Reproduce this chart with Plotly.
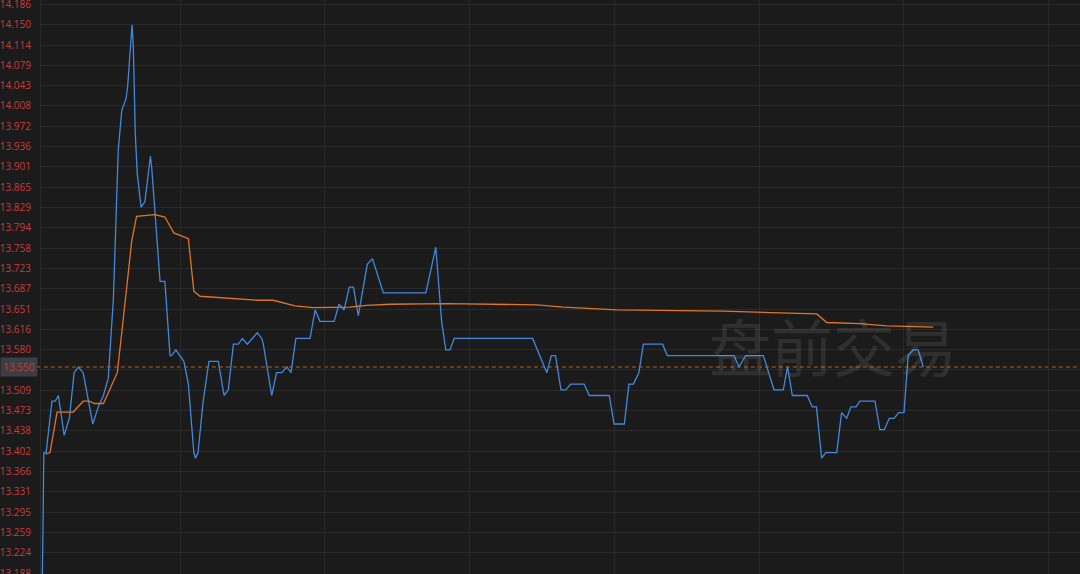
import plotly.graph_objects as go

# ---- data (minutes from session start, price) ----
price_t = [2.2, 2.4, 2.5, 2.6, 2.7, 3.4, 5.2, 6.2, 7.2, 9.0, 10.6, 12.1, 13.4, 14.9, 17.9, 19.6, 21.2, 22.7,
           24.3, 25.0, 25.8, 26.9, 28.2, 28.7, 29.5, 30.1, 30.5, 30.8, 31.1, 31.7, 32.9, 34.1, 35.0, 35.8, 36.2,
           36.7, 37.5, 38.8, 40.3, 41.9, 42.4, 43.7, 46.2, 47.6, 49.3, 49.8, 50.6, 52.2, 54.0, 56.9, 58.7, 60.0,
           61.6, 63.1, 64.4, 65.9, 69.0, 70.4, 70.9, 73.5, 75.0, 76.6, 78.2, 79.5, 81.0, 85.4, 87.0, 88.5, 92.9,
           94.4, 96.0, 97.6, 98.9, 100.4, 103.2, 104.8, 108.2, 121.4, 124.5, 126.3, 127.6, 128.9, 130.2, 154.6,
           159.0, 160.4, 161.7, 163.4, 164.9, 166.4, 170.6, 172.2, 178.4, 179.9, 183.1, 184.5, 185.9, 187.6,
           189.0, 195.0, 196.4, 217.2, 218.7, 220.8, 226.3, 229.6, 232.5, 233.8, 235.3, 239.9, 241.5, 242.8,
           244.4, 245.7, 249.1, 250.6, 252.2, 253.5, 255.1, 256.3, 261.0, 262.5, 263.9, 265.4, 266.9, 268.4,
           270.0, 271.3, 272.9, 274.4, 276.0]
price_v = [13.18, 13.235, 13.30, 13.365, 13.40, 13.40, 13.49, 13.49, 13.50, 13.43, 13.46, 13.54, 13.55, 13.54,
           13.45, 13.48, 13.50, 13.53, 13.67, 13.79, 13.93, 14.00, 14.02, 14.04, 14.10, 14.15, 14.11, 14.04,
           13.96, 13.89, 13.83, 13.84, 13.88, 13.92, 13.90, 13.86, 13.79, 13.70, 13.70, 13.57, 13.57, 13.58,
           13.56, 13.52, 13.40, 13.39, 13.40, 13.49, 13.56, 13.56, 13.50, 13.51, 13.59, 13.59, 13.60, 13.59,
           13.61, 13.60, 13.59, 13.50, 13.54, 13.54, 13.55, 13.54, 13.60, 13.60, 13.65, 13.63, 13.63, 13.66,
           13.65, 13.69, 13.69, 13.64, 13.73, 13.74, 13.68, 13.68, 13.76, 13.63, 13.58, 13.58, 13.60, 13.60,
           13.54, 13.57, 13.57, 13.51, 13.51, 13.52, 13.52, 13.50, 13.50, 13.45, 13.45, 13.52, 13.52, 13.54,
           13.59, 13.59, 13.57, 13.57, 13.55, 13.57, 13.57, 13.51, 13.51, 13.55, 13.50, 13.50, 13.48, 13.48,
           13.39, 13.40, 13.40, 13.47, 13.46, 13.48, 13.48, 13.49, 13.49, 13.44, 13.44, 13.46, 13.46, 13.47,
           13.47, 13.57, 13.58, 13.58, 13.55]

avg_t = [3.2, 4.6, 6.8, 11.8, 14.9, 16.8, 18.4, 21.2, 23.2, 25.5, 26.9, 28.4, 30.0, 31.5, 34.7, 37.2, 40.3,
         43.1, 47.6, 49.3, 51.2, 60.5, 68.8, 74.0, 80.7, 86.4, 97.8, 103.0, 110.3, 127.9, 155.8, 164.1, 180.7,
         213.8, 234.6, 242.9, 246.0, 256.3, 264.6, 279.1]
avg_v = [13.397, 13.400, 13.471, 13.471, 13.490, 13.490, 13.486, 13.486, 13.511, 13.540, 13.610, 13.686,
         13.771, 13.814, 13.816, 13.817, 13.813, 13.785, 13.775, 13.683, 13.674, 13.670, 13.667, 13.667,
         13.657, 13.654, 13.655, 13.658, 13.660, 13.661, 13.659, 13.655, 13.650, 13.648, 13.645, 13.643,
         13.628, 13.626, 13.622, 13.620]

prev_close = 13.550
tick_labels = ["13.188", "13.224", "13.259", "13.295", "13.331", "13.366", "13.402", "13.438", "13.473",
               "13.509", "13.545", "13.580", "13.616", "13.651", "13.687", "13.723", "13.758", "13.794",
               "13.829", "13.865", "13.901", "13.936", "13.972", "14.008", "14.043", "14.079", "14.114",
               "14.150", "14.186"]
time_grid = [45, 90, 135, 180, 225, 270, 315]
watermark = "盘前交易"

BG = "#1b1b1b"
GRID = "#2a2a2a"
RED = "#c93c3c"

fig = go.Figure()
fig.add_trace(go.Scatter(x=price_t, y=price_v, mode="lines",
                         line=dict(color="#4189dd", width=1.3), hoverinfo="skip"))
fig.add_trace(go.Scatter(x=avg_t, y=avg_v, mode="lines",
                         line=dict(color="#e0761f", width=1.3), hoverinfo="skip"))

fig.add_shape(type="line", xref="paper", yref="y", x0=-0.004, x1=1, y0=prev_close, y1=prev_close,
              line=dict(color="#b8611f", width=1, dash="4px,3px"), layer="below")

tickvals = [float(s) for s in tick_labels]
ticktext = ["" if abs(float(s) - prev_close) < 0.01 else s for s in tick_labels]

fig.add_annotation(xref="paper", yref="y", x=0, y=prev_close, xanchor="right", yanchor="middle",
                   text=f"{prev_close:.3f}", showarrow=False, bgcolor="#3a3f44", width=34, height=16,
                   xshift=-3, font=dict(color=RED, size=10, family="Open Sans"), borderpad=1)

fig.add_annotation(xref="paper", yref="paper", x=0.762, y=0.399, xanchor="center", yanchor="middle",
                   text=watermark, showarrow=False,
                   font=dict(size=62, color="rgba(255,255,255,0.09)", family="Noto Sans CJK SC"))

fig.update_layout(
    width=1080, height=574, margin=dict(l=41, r=0, t=0, b=0),
    paper_bgcolor=BG, plot_bgcolor=BG, showlegend=False,
    xaxis=dict(range=[1.8, 324.7], tickvals=time_grid, showticklabels=False, showgrid=True,
               gridcolor=GRID, gridwidth=1, zeroline=False, showline=False, fixedrange=True,
               automargin=False),
    yaxis=dict(range=[13.187, 14.1935], tickvals=tickvals, ticktext=ticktext, showgrid=True,
               gridcolor=GRID, gridwidth=1, zeroline=False, showline=True, linecolor=GRID, linewidth=1,
               ticks="", ticklabelstandoff=7, ticklabeloverflow="allow", automargin=False,
               tickfont=dict(color=RED, size=10, family="Open Sans"), fixedrange=True),
)

fig.write_html("out.html", config={"displayModeBar": False},
               post_script="document.body.style.margin='0';document.body.style.overflow='hidden';")
